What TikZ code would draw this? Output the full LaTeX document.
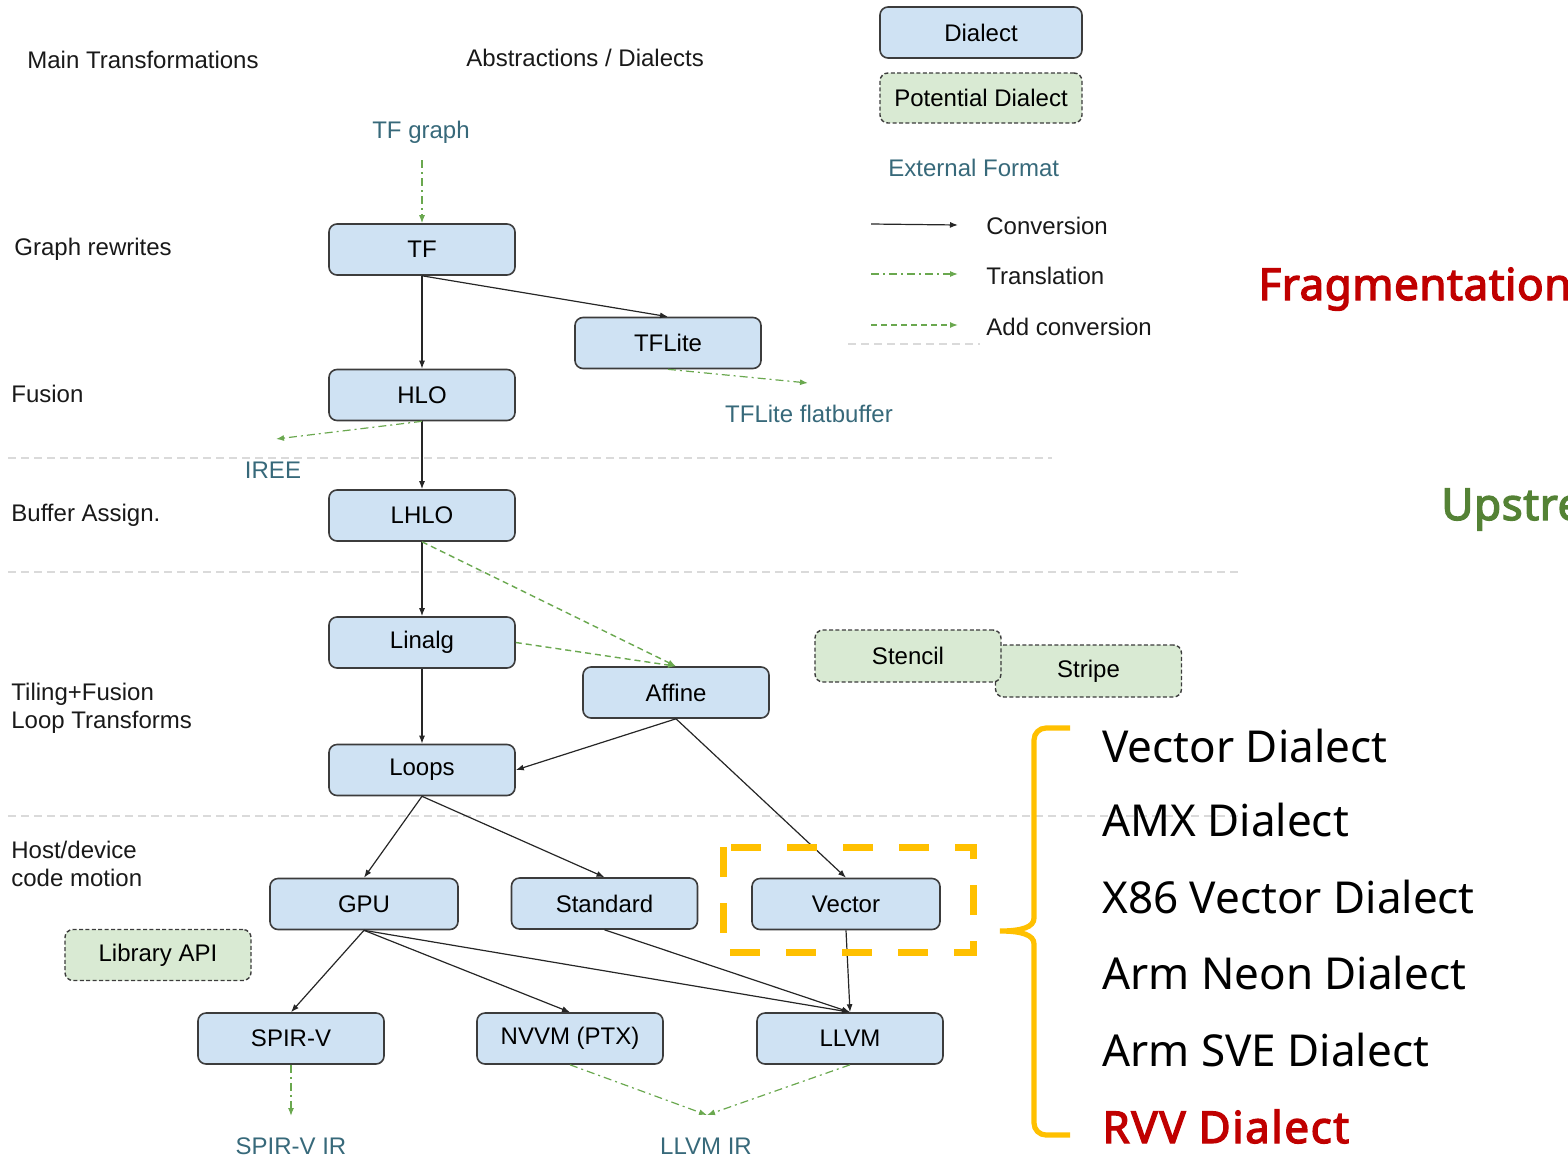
\documentclass[tikz,border=0pt]{standalone}
\usepackage{fontspec}
\setmainfont{Liberation Sans}
\newfontfamily\rfont{Noto Sans}
\newfontfamily\rbfont{Noto Sans}[FakeBold=3,LetterSpace=3.5]
\newfontfamily\rbtfont{Noto Sans}[FakeBold=3,LetterSpace=1.2]
\usetikzlibrary{arrows.meta}
\definecolor{dblue}{HTML}{CFE2F3}
\definecolor{dgreen}{HTML}{D9EAD3}
\definecolor{bordergray}{HTML}{3C3C3C}
\definecolor{tealtxt}{HTML}{37697A}
\definecolor{gline}{HTML}{6AA84F}
\definecolor{sepgray}{HTML}{DADADA}
\definecolor{gold}{HTML}{FFC000}
\definecolor{darkred}{HTML}{C00000}
\definecolor{upgreen}{HTML}{548235}
\tikzset{
  base12/.style={font=\fontsize{12}{14}\selectfont},
  dialect/.style={base12, draw=bordergray, fill=dblue, rounded corners=4pt,
    minimum width=93pt, minimum height=25.5pt, inner sep=0pt, line width=0.8pt},
  potential/.style={base12, draw=bordergray, fill=dgreen, rounded corners=4pt,
    minimum width=93pt, minimum height=25.5pt, inner sep=0pt, line width=0.7pt,
    dash pattern=on 2pt off 1.2pt},
  extfmt/.style={base12, text=tealtxt, inner sep=0pt},
  lbl/.style={base12, text=black!90, inner sep=0pt, anchor=west, align=left},
  conv/.style={draw=black!85, line width=0.6pt, -{Latex[length=4pt,width=3pt]}},
  trans/.style={draw=gline, line width=0.6pt, dash pattern=on 4pt off 2pt on 1pt off 2pt,
    -{Latex[length=4pt,width=3pt]}},
  addconv/.style={draw=gline, line width=0.7pt, dash pattern=on 3pt off 2pt,
    -{Latex[length=4pt,width=3pt]}},
  sepline/.style={draw=sepgray, line width=0.7pt, dash pattern=on 4pt off 2.5pt},
  rtext/.style={font=\rfont\fontsize{22}{26}\selectfont, anchor=base west, inner sep=0pt},
  rbold/.style={font=\rbfont\fontsize{22}{26}\selectfont, anchor=base west, inner sep=0pt},
  rtitle/.style={font=\rbtfont\fontsize{22}{26}\selectfont, anchor=base west, inner sep=0pt},
}
\begin{document}
\begin{tikzpicture}[x=0.5pt,y=-0.5pt]
\useasboundingbox (0,0) rectangle (1568,1157);
\clip (0,0) rectangle (1568,1157);

% separators
\draw[sepline] (8,458) -- (1052,458);
\draw[sepline] (8,572) -- (1238,572);
\draw[sepline] (8,816) -- (1238,816);
\draw[sepline] (848,344) -- (980,344);

% headings and left labels
\node[lbl] (hmain) at (27,60) {Main Transformations};
\node[lbl] (habs) at (466,58) {Abstractions / Dialects};
\node[lbl] (lgraph) at (14,249) {Graph rewrites};
\node[lbl] (lfusion) at (11,394) {Fusion};
\node[lbl] (lbuffer) at (11,515) {Buffer Assign.};
\node[lbl] (ltiling) at (11,708) {Tiling+Fusion\\Loop Transforms};
\node[lbl] (lhost) at (11,864) {Host/device\\code motion};

% legend
\node[dialect, minimum width=101pt] (legd) at (981,32.5) {Dialect};
\node[potential, minimum width=101pt, minimum height=25pt] (legp) at (981,98) {Potential Dialect};
\node[extfmt, anchor=west] (lege) at (888,168) {External Format};
\coordinate (c1a) at (871,224); \coordinate (c1b) at (958,225);
\coordinate (c2a) at (871,274); \coordinate (c2b) at (958,274);
\coordinate (c3a) at (871,325); \coordinate (c3b) at (958,325);
\draw[conv] (c1a) -- (c1b);
\draw[trans] (c2a) -- (c2b);
\draw[addconv] (c3a) -- (c3b);
\node[lbl] (lconv) at (986,226) {Conversion};
\node[lbl] (ltrans) at (986,276) {Translation};
\node[lbl] (ladd) at (986,327) {Add conversion};

% external formats
\node[extfmt] (tfgraph) at (421,132) {TF graph};
\node[extfmt] (tflitefb) at (809,414) {TFLite flatbuffer};
\node[extfmt] (iree) at (273,470) {IREE};
\node[extfmt] (spirvir) at (291,1146) {SPIR-V IR};
\node[extfmt] (llvmir) at (706,1146) {LLVM IR};
\coordinate (tfgraphend) at (422,160);
\coordinate (fbend) at (808,383);
\coordinate (ireeend) at (276,439);
\coordinate (spirvend) at (291,1116);
\coordinate (llvmirend) at (707,1115);

% dialect boxes
\node[dialect] (tf) at (422,249.5) {TF};
\node[dialect] (tflite) at (668,343) {TFLite};
\node[dialect] (hlo) at (422,395) {HLO};
\node[dialect] (lhlo) at (422,515.5) {LHLO};
\node[dialect] (linalg) at (422,642.5) {Linalg};
\node[dialect] (affine) at (676,692.5) {Affine};
\node[dialect] (loops) at (422,770) {Loops};
\node[dialect, minimum width=94pt] (gpu) at (364,904) {GPU};
\node[dialect] (standard) at (604.5,903.5) {Standard};
\node[dialect, minimum width=94pt] (vector) at (846,904) {Vector};
\node[dialect] (spirv) at (291,1038.5) {SPIR-V};
\node[dialect] (nvvm) at (570,1038.5) {NVVM (PTX)};
\node[dialect] (llvm) at (850,1038.5) {LLVM};
\node[potential] (libapi) at (158,955) {Library API};
\node[potential, minimum height=26pt] (stripe) at (1088.5,671) {Stripe};
\node[potential, minimum height=26pt] (stencil) at (908,656) {Stencil};

% conversions
\draw[conv] (tf.south) -- (hlo.north);
\draw[conv] (tf.south) -- (tflite.north);
\draw[conv] (hlo.south) -- (lhlo.north);
\draw[conv] (lhlo.south) -- (linalg.north);
\draw[conv] (linalg.south) -- (loops.north);
\draw[conv] (affine.south) -- (loops.east);
\draw[conv] (affine.south) -- (vector.north);
\draw[conv] (loops.south) -- (gpu.north);
\draw[conv] (loops.south) -- (standard.north);
\draw[conv] (gpu.south) -- (spirv.north);
\draw[conv] (gpu.south) -- (nvvm.north);
\draw[conv] (gpu.south) -- (llvm.north);
\draw[conv] (standard.south) -- (llvm.north);
\draw[conv] (vector.south) -- (llvm.north);

% translations
\draw[trans] (tfgraphend) -- (tf.north);
\draw[trans] (tflite.south) -- (fbend);
\draw[trans] (hlo.south) -- (ireeend);
\draw[trans] (spirv.south) -- (spirvend);
\draw[trans] (nvvm.south) -- (llvmirend);
\draw[trans] (llvm.south) -- (llvmirend);

% add conversions
\draw[addconv] (lhlo.south) -- (affine.north);
\draw[addconv] (linalg.east) -- (affine.north);

% highlight
\draw[draw=gold, line width=3.5pt, dash pattern=on 15pt off 13pt] (723,847) rectangle (973,952);

% brace
\draw[draw=gold, line width=2.6pt] (1070,728) [rounded corners=6pt] -| (1034,900) [sharp corners] -- (1034,918)
  .. controls (1034,927) and (1022,931) .. (1000,931)
  .. controls (1022,931) and (1034,935) .. (1034,944) [rounded corners=6pt] |- (1070,1135);

% right-side text
\node[rtitle, text=darkred] (frag) at (1258,300) {Fragmentation};
\node[rtitle, text=upgreen] (upst) at (1441,520) {Upstream};
\node[rtext] (r1) at (1102,762) {Vector Dialect};
\node[rtext] (r2) at (1102,836) {AMX Dialect};
\node[rtext] (r3) at (1102,913) {X86 Vector Dialect};
\node[rtext] (r4) at (1102,989) {Arm Neon Dialect};
\node[rtext] (r5) at (1102,1066) {Arm SVE Dialect};
\node[rbold, text=darkred] (r6) at (1102,1143) {RVV Dialect};
\end{tikzpicture}
\end{document}
